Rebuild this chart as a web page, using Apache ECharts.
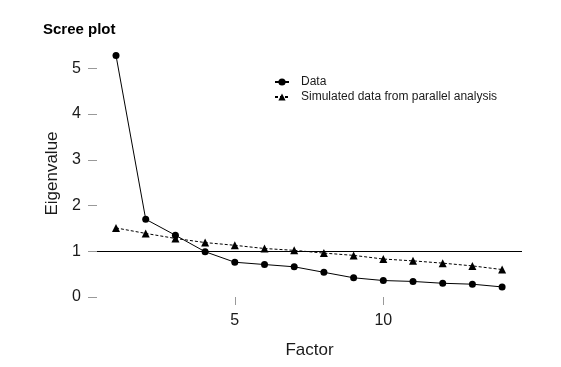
<!DOCTYPE html>
<html>
<head>
<meta charset="utf-8">
<script src="https://cdn.jsdelivr.net/npm/echarts@6/dist/echarts.min.js"></script>
<style>html,body{margin:0;padding:0;background:#fff;}#c{width:561px;height:367px;}</style>
</head>
<body>
<div id="c"></div>
<script>
const factors = [1,2,3,4,5,6,7,8,9,10,11,12,13,14];
const dataValues = [5.28, 1.70, 1.35, 0.99, 0.76, 0.71, 0.66, 0.54, 0.42, 0.36, 0.34, 0.30, 0.28, 0.22];
const simulatedValues = [1.51, 1.39, 1.28, 1.19, 1.13, 1.06, 1.02, 0.96, 0.91, 0.83, 0.79, 0.74, 0.68, 0.60];
const xTicks = [5, 10];
const yTicks = [0, 1, 2, 3, 4, 5];
const seriesNames = ['Data', 'Simulated data from parallel analysis'];
const referenceLine = 1;

const font = 'Liberation Sans, Arial, sans-serif';
const txt = '#1a1a1a';
const chart = echarts.init(document.getElementById('c'), null, {renderer: 'canvas'});
chart.setOption({
  animation: false,
  backgroundColor: '#fff',
  title: {
    text: 'Scree plot', left: 38, top: 17,
    textStyle: {fontFamily: font, fontSize: 15, fontWeight: 'bold', color: '#000'}
  },
  legend: {
    orient: 'vertical', left: 269, top: 71, itemGap: 3,
    itemWidth: 14, itemHeight: 9,
    textStyle: {fontFamily: font, fontSize: 12, color: txt, padding: [0, 0, 0, 7]},
    data: seriesNames
  },
  grid: {left: 97, right: 39, top: 50, bottom: 70},
  xAxis: {
    type: 'value', min: 0.36, max: 14.67,
    name: 'Factor', nameLocation: 'middle', nameGap: 45,
    nameTextStyle: {fontFamily: font, fontSize: 17, color: txt},
    axisLine: {show: false},
    axisTick: {show: true, length: 8, customValues: xTicks, lineStyle: {color: '#999'}},
    axisLabel: {customValues: xTicks, margin: 16, fontFamily: font, fontSize: 16, color: txt},
    splitLine: {show: false}
  },
  yAxis: {
    type: 'value', min: 0, max: 5.4,
    name: 'Eigenvalue', nameLocation: 'middle', nameGap: 35,
    nameTextStyle: {fontFamily: font, fontSize: 17, color: txt},
    axisLine: {show: false},
    axisTick: {show: true, length: 9, customValues: yTicks, lineStyle: {color: '#999'}},
    axisLabel: {customValues: yTicks, margin: 16, fontFamily: font, fontSize: 16, color: txt},
    splitLine: {show: false}
  },
  series: [
    {
      name: seriesNames[0], type: 'line',
      data: factors.map((f, i) => [f, dataValues[i]]),
      symbol: 'circle', symbolSize: 7,
      itemStyle: {color: '#000'},
      lineStyle: {color: '#000', width: 1},
      markLine: {
        silent: true, symbol: 'none', label: {show: false},
        lineStyle: {color: '#000', width: 1.2, type: 'solid'},
        data: [{yAxis: referenceLine}]
      },
      z: 3
    },
    {
      name: seriesNames[1], type: 'line',
      data: factors.map((f, i) => [f, simulatedValues[i]]),
      symbol: 'triangle', symbolSize: 8,
      itemStyle: {color: '#000'},
      lineStyle: {color: '#000', width: 1, type: [3, 2]},
      z: 2
    }
  ]
});
</script>
</body>
</html>
